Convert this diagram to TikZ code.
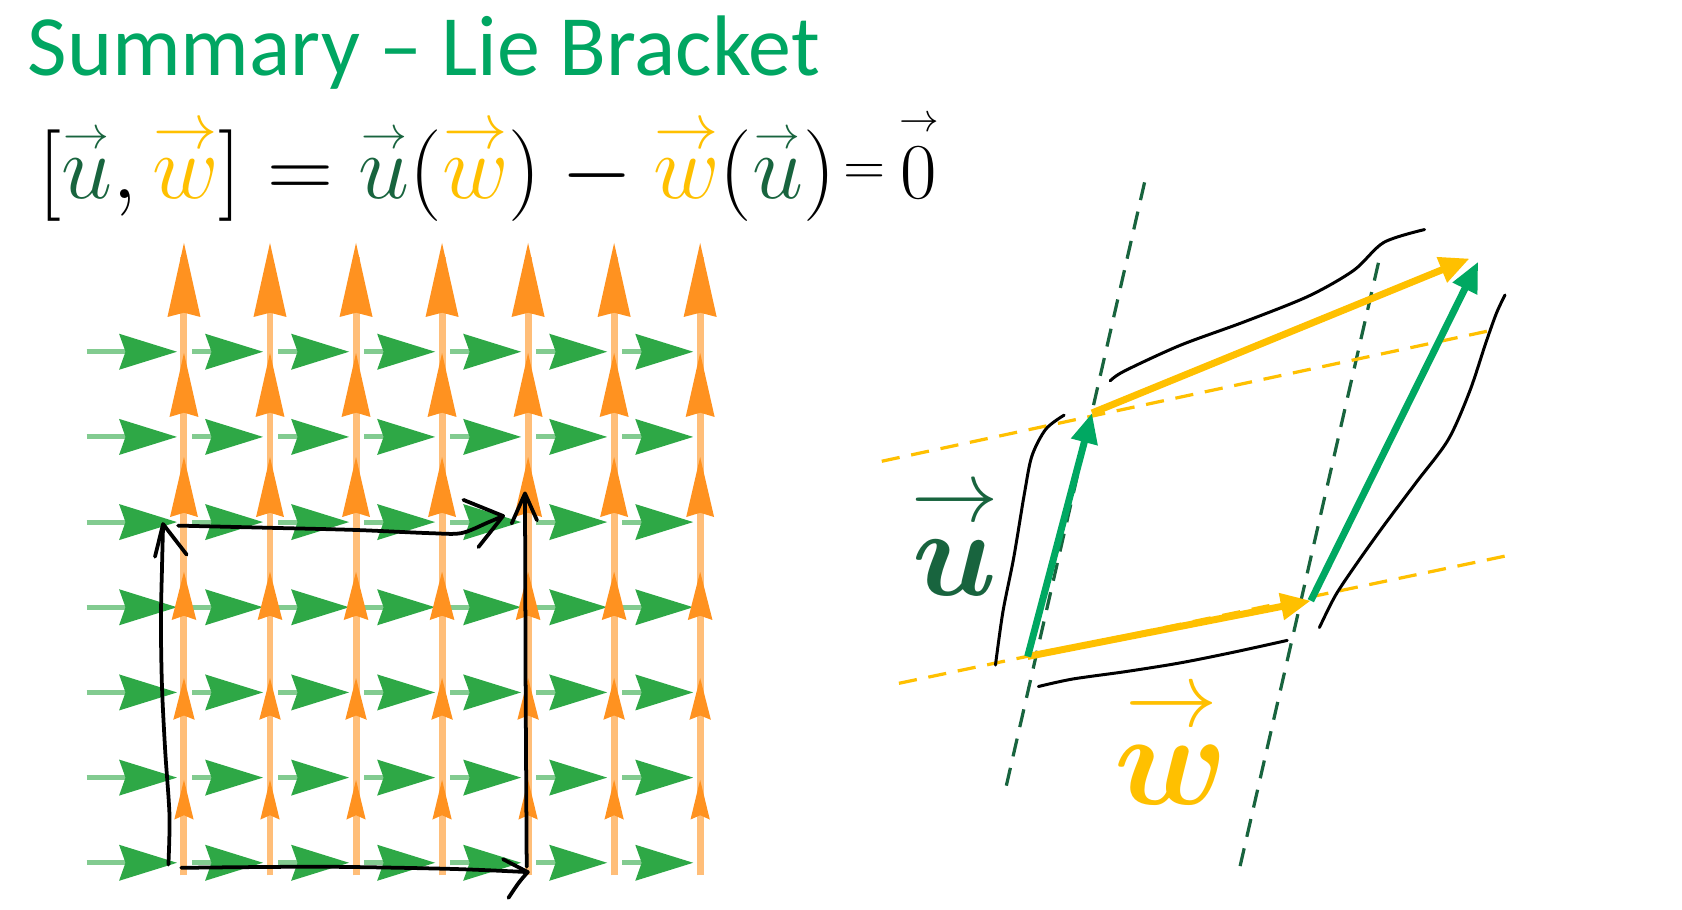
\RequirePackage{fix-cm}
\documentclass[tikz,border=0pt]{standalone}
\usepackage{amsmath,amssymb}
\usepackage{fontspec}
\usetikzlibrary{arrows.meta}
\newfontfamily\slidefont{Carlito}
\definecolor{titlegreen}{RGB}{0,166,98}
\definecolor{ugreen}{RGB}{24,100,62}
\definecolor{wgold}{RGB}{255,192,0}
\definecolor{fieldgreen}{RGB}{46,168,70}
\definecolor{fieldorange}{RGB}{255,146,32}
\definecolor{flowgreen}{RGB}{0,168,98}
\newcommand{\arrowon}[3]{\overset{\raisebox{#1}[0pt][0pt]{$#2\rightarrow$}}{#3}}
\newcommand{\uvec}{{\color{ugreen}\arrowon{-0.1em}{\scriptscriptstyle}{u}}}
\newcommand{\wvec}{{\color{wgold}\arrowon{-0.15em}{\scriptstyle}{w}}}

\begin{document}
\begin{tikzpicture}[x=0.1mm,y=-0.1mm,
  heading/.style={font=\slidefont\fontsize{22.8}{27}\selectfont,text=titlegreen,
    inner sep=0pt,anchor=base west},
  eqn/.style={font=\fontsize{24.3}{29}\selectfont,inner sep=0pt,anchor=base west},
  gshaft/.style={line width=0.47mm,fieldgreen!60},
  oshaft/.style={line width=0.65mm,fieldorange!60},
  pen/.style={line width=0.35mm,line cap=round,line join=round},
  flow/.style={line width=0.65mm,-{Triangle[length=2.8mm,width=2.4mm]}},
  guide/.style={line width=0.3mm,dash pattern=on 1.7mm off 1.1mm}]
\path[use as bounding box,fill=white] (0,0) rectangle (1568,848);

\node[heading] (title) at (25,70) {Summary – Lie Bracket};
\node[eqn] (bracket) at (35,185) {$[\uvec,\wvec]=\uvec(\wvec)-\wvec(\uvec)$};
\node[font=\fontsize{21}{25}\selectfont,inner sep=0pt,anchor=base west]
  (zero) at ([xshift=0.6mm]bracket.base east)
  {${\raisebox{0.18em}{$\scriptstyle=$}}\,\arrowon{0pt}{\scriptscriptstyle}{0}$};

% the two fields
\foreach \r in {0,...,6}{
  \pgfmathsetmacro\yy{327.9+79.4*\r}
  \foreach \c in {0,...,6}{
    \pgfmathsetmacro\xt{171.5+80.2*\c-6.5}
    \pgfmathsetmacro\xs{\c==0 ? 80.8 : 171.5+80.2*(\c-1)+7.5}
    \draw[gshaft] (\xs,\yy) -- (\xt-48,\yy);
    \fill[fieldgreen] (\xt,\yy) -- (\xt-54,\yy-16.8) -- (\xt-48,\yy)
      -- (\xt-54,\yy+16.8) -- cycle;
  }
}
\foreach \c in {0,...,6}{
  \pgfmathsetmacro\xx{171.5+80.2*\c}
  \draw[oshaft] (\xx,816) -- (\xx,240);
  \foreach \tip/\base/\hw in {226.5/295.5/15.4,329/388.7/13.5,426/482/13,
      533/578/11.5,632/671/10,727/764/9}{
    \fill[fieldorange] (\xx,\tip) -- (\xx+\hw,\base) -- (\xx,\base-4)
      -- (\xx-\hw,\base) -- cycle;
  }
}

% loop around the square
\draw[pen] plot[smooth] coordinates {(157,806) (158,760) (154,700) (151,640)
  (150,580) (151,530) (152,490)};
\draw[pen] (144.5,519) -- (152,488.5) -- (174,517);
\draw[pen] plot[smooth] coordinates {(166,490) (250,492) (330,494) (400,497)
  (430,497) (455,487) (469,481)};
\draw[pen] (432,466) -- (469,481) -- (446,510);
\draw[pen] (491,808) -- (490,640) -- (489.4,460);
\draw[pen] (477,488) -- (489.4,460) -- (500.6,485);
\draw[pen] plot[smooth] coordinates {(169,809) (300,808) (420,810) (492,813)};
\draw[pen] (469,801) -- (492,813) .. controls (484,822) .. (474,837);

% parallelogram
\coordinate (o) at (958,612);
\coordinate (utip) at (1018,385);
\coordinate (wtip) at (1222,560);
\coordinate (wtop) at (1370,241);
\coordinate (utop) at (1378,244);

\draw[guide,ugreen] (1067,170) -- (938,733);
\draw[guide,ugreen] (1285,245) -- (1155,812);
\draw[guide,wgold] (822,430) -- (1390,308);
\draw[guide,wgold] (838,637) -- (1405,518);

\draw[flow,wgold] (o) -- (wtip);
\draw[flow,wgold] (utip) -- (wtop);
\draw[flow,flowgreen] (o) -- (utip);
\draw[flow,flowgreen] (wtip) -- (utop);

\draw[pen,line width=0.28mm] plot[smooth] coordinates {(992,387) (975,400)
  (962,425) (955,460) (945,520) (935,570) (928,620)};
\draw[pen,line width=0.28mm] plot[smooth] coordinates {(968,640) (1000,633)
  (1050,626) (1100,618) (1150,608) (1200,597)};
\draw[pen,line width=0.28mm] plot[smooth] coordinates {(1035,355) (1048,346)
  (1100,322) (1160,300) (1220,276) (1262,252) (1290,226) (1328,214)};
\draw[pen,line width=0.28mm] plot[smooth] coordinates {(1403,275) (1395,292)
  (1385,320) (1370,365) (1350,410) (1320,450) (1290,490) (1265,525)
  (1245,555) (1230,585)};

\node[font=\fontsize{33}{38}\selectfont,inner sep=0pt,anchor=base]
  (ulabel) at (890,555)
  {$\color{ugreen}\arrowon{-0.05em}{\scriptstyle}{\boldsymbol{u}}$};
\node[font=\fontsize{35}{40}\selectfont,inner sep=0pt,anchor=base]
  (wlabel) at (1092,750)
  {$\color{wgold}\arrowon{-0.05em}{\scriptstyle}{\boldsymbol{w}}$};
\end{tikzpicture}
\end{document}
